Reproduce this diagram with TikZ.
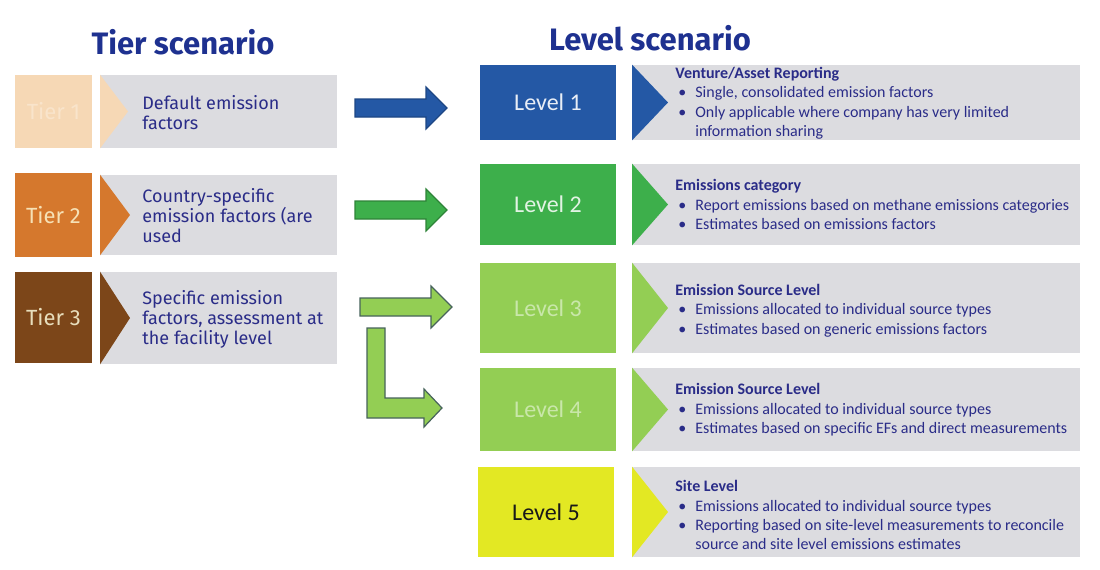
\documentclass[tikz,border=0pt]{standalone}
\usepackage{fontspec}
\setmainfont{Carlito}
\newfontfamily\tierfont{Fira Sans}
\usetikzlibrary{calc}
\definecolor{navy}{HTML}{2A2C88}
\definecolor{titleblue}{HTML}{1E3190}
\definecolor{boxgrey}{HTML}{DCDCE0}
\definecolor{tierA}{HTML}{F6D8B5}
\definecolor{tierB}{HTML}{D5782D}
\definecolor{tierC}{HTML}{7C4619}
\definecolor{lvA}{HTML}{2458A5}
\definecolor{lvB}{HTML}{3DAF4B}
\definecolor{lvC}{HTML}{93CE54}
\definecolor{lvE}{HTML}{E3E823}
\tikzset{
    tierbox/.style={inner sep=0pt,minimum width=38.5pt,font=\tierfont\fontsize{11}{13}\selectfont},
    greybox/.style={fill=boxgrey,inner sep=0pt,anchor=west},
    tiertext/.style={anchor=west,inner sep=0pt,align=left,text=navy,font=\tierfont\fontsize{9}{10}\selectfont},
    lvbox/.style={inner sep=0pt,minimum width=68pt,font=\fontsize{12}{14}\selectfont},
    lvtext/.style={anchor=west,inner sep=0pt,text=navy,font=\fontsize{8}{9.7}\selectfont},
    arr/.style={line width=0.6pt,line join=miter}
}
% block arrow: style, tail, tip
\newcommand{\blockarr}[3]{%
  \draw[arr,#1] ($(#2)+(0,-9)$) -- ($(#3)+(-21,-9)$) -- ($(#3)+(-21,-21)$) -- (#3)
    -- ($(#3)+(-21,21)$) -- ($(#3)+(-21,9)$) -- ($(#2)+(0,9)$) -- cycle;}

\begin{document}
\begin{tikzpicture}[x=0.5pt,y=-0.5pt]
\useasboundingbox (0,0) rectangle (1100,569);

% Tieu de
\node[text=titleblue,font=\tierfont\bfseries\fontsize{15.5}{18}\selectfont] (tt) at (183,42) {Tier scenario};
\node[text=titleblue,font=\tierfont\bfseries\fontsize{15.5}{18}\selectfont] (lt) at (650,38) {Level scenario};

% Cac tier ben trai
\node[greybox,minimum width=118.5pt,minimum height=36.5pt] (G1) at (100,111.5) {};
\node[greybox,minimum width=118.5pt,minimum height=40pt] (G2) at (100,215) {};
\node[greybox,minimum width=118.5pt,minimum height=46pt] (G3) at (100,318) {};
\fill[tierA] (G1.north west) -- (G1.south west) -- ($(G1.west)+(28,0)$) -- cycle;
\fill[tierB] (G2.north west) -- (G2.south west) -- ($(G2.west)+(30,0)$) -- cycle;
\fill[tierC] (G3.north west) -- (G3.south west) -- ($(G3.west)+(30,0)$) -- cycle;

\node[tierbox,fill=tierA,text=white!30!tierA,minimum height=36.5pt] (T1) at (53.5,111.5) {Tier 1};
\node[tierbox,fill=tierB,text=white!75!tierB!90!yellow,minimum height=42pt] (T2) at (53.5,215) {Tier 2};
\node[tierbox,fill=tierC,text=white!80!tierC!90!yellow,minimum height=45.5pt] (T3) at (53.5,317.5) {Tier 3};

\node[tiertext] (X1) at ($(G1.west)+(42,1)$) {Default emission\\factors};
\node[tiertext] (X2) at ($(G2.west)+(42,1)$) {Country-specific\\emission factors (are\\used};
\node[tiertext] (X3) at ($(G3.west)+(42,1)$) {Specific emission\\factors, assessment at\\the facility level};

% Cac level ben phai
\foreach \n/\y/\h in {1/102.5/37.5,2/204.5/40.5,3/308/45,4/409.5/41.5,5/512/45}{
  \node[greybox,minimum width=224pt,minimum height=\h pt] (R\n) at (632,\y) {};
}
\fill[lvA] (R1.north west) -- (R1.south west) -- ($(R1.west)+(36,0)$) -- cycle;
\fill[lvB] (R2.north west) -- (R2.south west) -- ($(R2.west)+(36,0)$) -- cycle;
\fill[lvC] (R3.north west) -- (R3.south west) -- ($(R3.west)+(36,0)$) -- cycle;
\fill[lvC] (R4.north west) -- (R4.south west) -- ($(R4.west)+(36,0)$) -- cycle;
\fill[lvE] (R5.north west) -- (R5.south west) -- ($(R5.west)+(36,0)$) -- cycle;

\node[lvbox,fill=lvA,text=white!90!lvA,minimum height=37.5pt] (L1) at (548,102.5) {Level 1};
\node[lvbox,fill=lvB,text=white!85!lvB,minimum height=40.5pt] (L2) at (548,204.5) {Level 2};
\node[lvbox,fill=lvC,text=white!50!lvC,minimum height=45pt] (L3) at (548,308) {Level 3};
\node[lvbox,fill=lvC,text=white!50!lvC,minimum height=41.5pt] (L4) at (548,409.5) {Level 4};
\node[lvbox,fill=lvE,text=black!90,minimum height=45pt] (L5) at (546,512) {Level 5};

\node[lvtext] (D1) at ($(R1.west)+(43,1)$) {\begin{tabular}{@{\hspace{1.5pt}}l@{\hspace{4.5pt}}l@{}}
\multicolumn{2}{@{}l@{}}{\bfseries Venture/Asset Reporting}\\
\textbullet & Single, consolidated emission factors\\
\textbullet & Only applicable where company has very limited\\
 & information sharing
\end{tabular}};
\node[lvtext] (D2) at ($(R2.west)+(43,2)$) {\begin{tabular}{@{\hspace{1.5pt}}l@{\hspace{4.5pt}}l@{}}
\multicolumn{2}{@{}l@{}}{\bfseries Emissions category}\\
\textbullet & Report emissions based on methane emissions categories\\
\textbullet & Estimates based on emissions factors
\end{tabular}};
\node[lvtext] (D3) at ($(R3.west)+(43,3)$) {\begin{tabular}{@{\hspace{1.5pt}}l@{\hspace{4.5pt}}l@{}}
\multicolumn{2}{@{}l@{}}{\bfseries Emission Source Level}\\
\textbullet & Emissions allocated to individual source types\\
\textbullet & Estimates based on generic emissions factors
\end{tabular}};
\node[lvtext] (D4) at ($(R4.west)+(43,1)$) {\begin{tabular}{@{\hspace{1.5pt}}l@{\hspace{4.5pt}}l@{}}
\multicolumn{2}{@{}l@{}}{\bfseries Emission Source Level}\\
\textbullet & Emissions allocated to individual source types\\
\textbullet & Estimates based on specific EFs and direct measurements
\end{tabular}};
\node[lvtext] (D5) at ($(R5.west)+(43,5)$) {\begin{tabular}{@{\hspace{1.5pt}}l@{\hspace{4.5pt}}l@{}}
\multicolumn{2}{@{}l@{}}{\bfseries Site Level}\\
\textbullet & Emissions allocated to individual source types\\
\textbullet & Reporting based on site-level measurements to reconcile\\
 & source and site level emissions estimates
\end{tabular}};

% Mui ten tu tier sang level
\coordinate (a1) at (355,108);
\coordinate (b1) at (447,108);
\coordinate (a2) at (355,210);
\coordinate (b2) at (447,210);
\coordinate (a3) at (360,307);
\coordinate (b3) at (452,307);
\coordinate (c4) at (376,328);
\coordinate (b4) at (442,408);
\blockarr{fill=lvA,draw=lvA!80!black}{a1}{b1}
\blockarr{fill=lvB,draw=lvB!75!black}{a2}{b2}
\blockarr{fill=lvC,draw=lvC!60!black!80!blue}{a3}{b3}
\draw[arr,fill=lvC,draw=lvC!60!black!80!blue] ($(c4)+(-9,0)$) -- ($(c4|-b4)+(-9,10)$) -- ($(b4)+(-18,10)$)
  -- ($(b4)+(-18,19)$) -- (b4) -- ($(b4)+(-18,-19)$) -- ($(b4)+(-18,-10)$)
  -- ($(c4|-b4)+(9,-10)$) -- ($(c4)+(9,0)$) -- cycle;
\end{tikzpicture}
\end{document}
